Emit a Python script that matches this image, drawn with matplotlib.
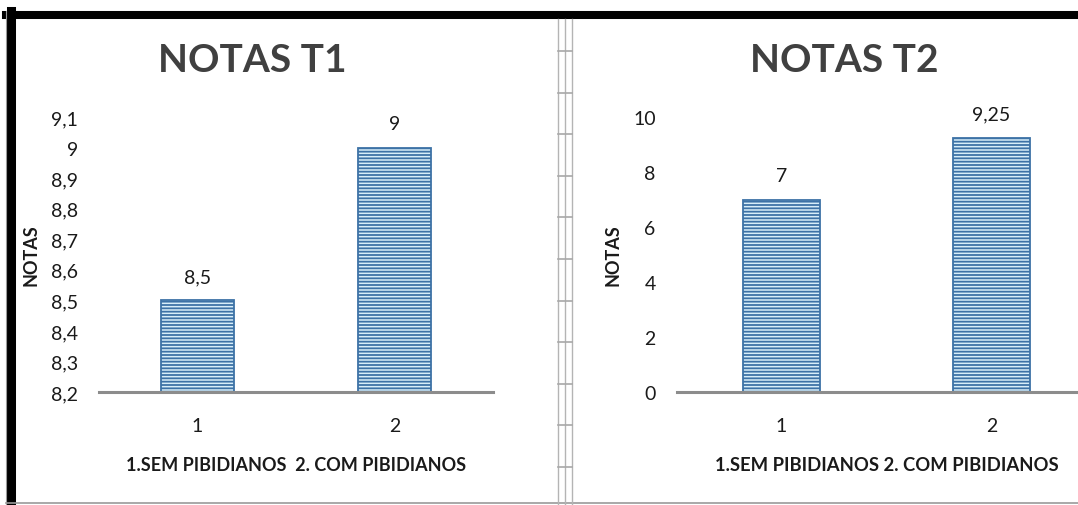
import matplotlib.pyplot as plt
from matplotlib.lines import Line2D

plt.rcParams['font.family'] = ['Lato', 'DejaVu Sans']
plt.rcParams['hatch.linewidth'] = 1.3
plt.rcParams['hatch.color'] = '#2a5d8f'

# Dados dos dois gráficos
categorias = [1, 2]
rotulos_x = ['1', '2']
notas_t1 = [8.5, 9]
notas_t2 = [7, 9.25]
rotulos_t1 = ['8,5', '9']
rotulos_t2 = ['7', '9,25']
ticks_t1 = [8.2, 8.3, 8.4, 8.5, 8.6, 8.7, 8.8, 8.9, 9.0, 9.1]
ticks_lbl_t1 = ['8,2', '8,3', '8,4', '8,5', '8,6', '8,7', '8,8', '8,9', '9', '9,1']
ticks_t2 = [0, 2, 4, 6, 8, 10]
ticks_lbl_t2 = ['0', '2', '4', '6', '8', '10']

W, H = 1078, 506
fig = plt.figure(figsize=(W / 100, H / 100), dpi=100)


def painel(rect, valores, rotulos, ticks, ticks_lbl, ylim, titulo, tx, xlabel, xl_size):
    ax = fig.add_axes(rect)
    base = ylim[0]
    ax.bar(categorias, [v - base for v in valores], width=0.37, bottom=base,
           color='#d8eef9', edgecolor='#3d72a6', linewidth=1.3, hatch='-----')
    ax.set_xlim(0.5, 2.5)
    ax.set_ylim(*ylim)
    ax.set_xticks(categorias)
    ax.set_xticklabels(rotulos_x, fontsize=14)
    ax.set_yticks(ticks)
    ax.set_yticklabels(ticks_lbl, fontsize=14)
    ax.tick_params(length=0, colors='#1a1a1a')
    ax.tick_params(axis='y', pad=15)
    ax.tick_params(axis='x', pad=18)
    for s in ['top', 'right', 'left']:
        ax.spines[s].set_visible(False)
    ax.spines['bottom'].set_color('#8c8c8c')
    ax.spines['bottom'].set_linewidth(2.2)
    for x, v, r in zip(categorias, valores, rotulos):
        ax.annotate(r, (x, v), xytext=(0, 11), textcoords='offset points',
                    ha='center', va='bottom', fontsize=14, color='#1a1a1a')
    ax.set_ylabel('NOTAS', fontsize=13, fontweight='bold', color='#1a1a1a', labelpad=8)
    ax.set_xlabel(xlabel, fontsize=xl_size, fontweight='bold', color='#1a1a1a', labelpad=16)
    fig.text(tx / W, 1 - 60 / H, titulo, ha='center', va='center',
             fontsize=28, fontweight='bold', color='#404040')
    return ax


# eixo 1: x 99..493, y 118..393 (pixels)
painel([99 / W, 1 - 393 / H, 394 / W, 275 / H], notas_t1, rotulos_t1, ticks_t1,
       ticks_lbl_t1, (8.2, 9.1), 'NOTAS T1', 252,
       '1.SEM PIBIDIANOS  2. COM PIBIDIANOS', 13)
# eixo 2: continua além da borda direita da figura
painel([676.5 / W, 1 - 393 / H, 420 / W, 275 / H], notas_t2, rotulos_t2, ticks_t2,
       ticks_lbl_t2, (0, 10), 'NOTAS T2', 844,
       '1.SEM PIBIDIANOS 2. COM PIBIDIANOS', 13.3)


def linha(xs, ys, cor, lw):
    fig.add_artist(Line2D([x / W for x in xs], [1 - y / H for y in ys],
                          color=cor, linewidth=lw, transform=fig.transFigure))


# moldura preta (topo e esquerda)
linha([6, W], [16, 16], 'black', 5.8)
linha([10.5, 10.5], [12, H], 'black', 6.5)
linha([6, 6], [12, H], '#9a9a9a', 0.8)
linha([6, W], [503.5, 503.5], '#9a9a9a', 1.2)

# divisória entre os gráficos
for x in [558, 565, 572]:
    linha([x, x], [20, H], '#b4b4b4', 1.0)
y = 52
while y < H:
    linha([558, 572], [y, y], '#a8a8a8', 1.2)
    y += 41.6

fig.savefig('out.png', dpi=100, facecolor='white')
